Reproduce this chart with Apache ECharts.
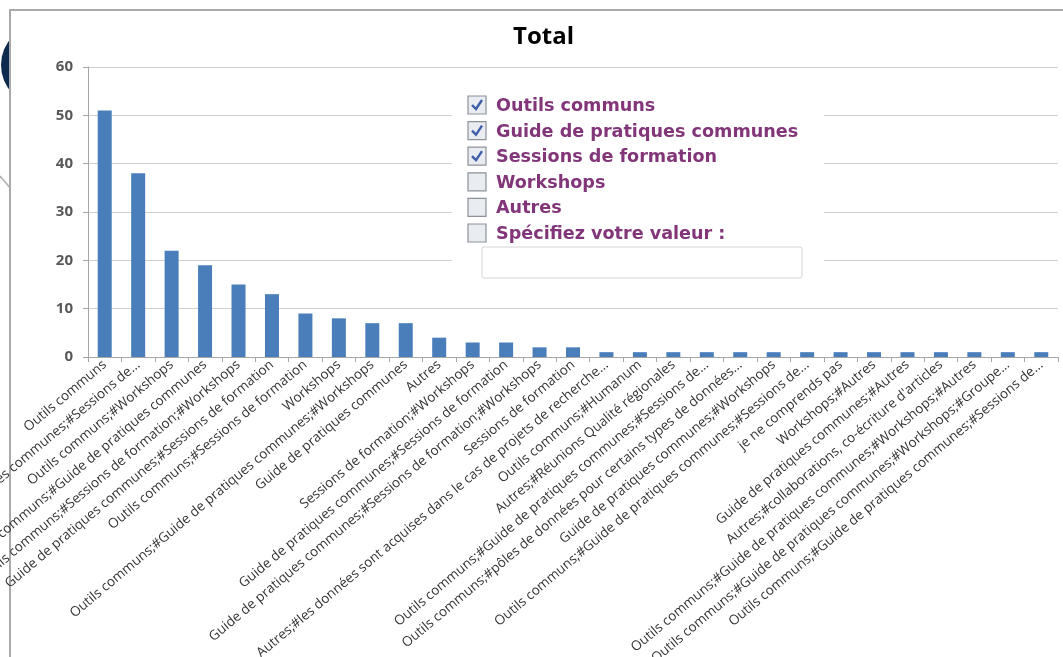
<!DOCTYPE html>
<html lang="fr">
<head>
<meta charset="UTF-8">
<title>Total</title>
<style>
  html, body { margin: 0; padding: 0; background: #fff; }
  #chartContainer { width: 1063px; height: 657px; }
</style>
<script src="https://cdn.jsdelivr.net/npm/echarts@6/dist/echarts.min.js"></script>
</head>
<body>
<div id="chartContainer"></div>
<script>
// categories (long Excel labels, some truncated with "...")
const categories = [
  'Outils communs',
  'Outils communs;#Guide de pratiques communes;#Sessions de...',
  'Outils communs;#Workshops',
  'Outils communs;#Guide de pratiques communes',
  'Outils communs;#Sessions de formation;#Workshops',
  'Guide de pratiques communes;#Sessions de formation',
  'Outils communs;#Sessions de formation',
  'Workshops',
  'Outils communs;#Guide de pratiques communes;#Workshops',
  'Guide de pratiques communes',
  'Autres',
  'Sessions de formation;#Workshops',
  'Guide de pratiques communes;#Sessions de formation',
  'Guide de pratiques communes;#Sessions de formation;#Workshops',
  'Sessions de formation',
  'Autres;#les données sont acquises dans le cas de projets de recherche...',
  'Outils communs;#Humanum',
  'Autres;#Réunions Qualité régionales',
  'Outils communs;#Guide de pratiques communes;#Sessions de...',
  'Outils communs;#pôles de données pour certains types de données...',
  'Guide de pratiques communes;#Workshops',
  'Outils communs;#Guide de pratiques communes;#Sessions de...',
  'je ne comprends pas',
  'Workshops;#Autres',
  'Guide de pratiques communes;#Autres',
  'Autres;#collaborations, co-écriture d\'articles',
  'Outils communs;#Guide de pratiques communes;#Workshops;#Autres',
  'Outils communs;#Guide de pratiques communes;#Workshops;#Groupe...',
  'Outils communs;#Guide de pratiques communes;#Sessions de...'
];
const totals = [51, 38, 22, 19, 15, 13, 9, 8, 7, 7, 4, 3, 3, 2, 2,
                1, 1, 1, 1, 1, 1, 1, 1, 1, 1, 1, 1, 1, 1];
const yTicks = [0, 10, 20, 30, 40, 50, 60];

// the survey question box pasted over the chart
const choices = ['Outils communs', 'Guide de pratiques communes', 'Sessions de formation',
                 'Workshops', 'Autres', 'Spécifiez votre valeur :'];
const checked = [true, true, true, false, false, false];

const chartDom = document.getElementById('chartContainer');
const myChart = echarts.init(chartDom);

const purple = '#833579';
const overlay = [
  { type: 'rect', z: 20, shape: { x: 452, y: 88, width: 372, height: 200 },
    style: { fill: '#fff' } },
  { type: 'rect', z: 21, shape: { x: 482, y: 247, width: 320, height: 31, r: 2 },
    style: { fill: '#fff', stroke: '#d4d4d4', lineWidth: 1 } }
];
choices.forEach((txt, i) => {
  const cy = 105 + i * 25.6;
  overlay.push({ type: 'rect', z: 21, shape: { x: 468, y: cy - 9, width: 18, height: 18 },
    style: { fill: '#e9edf2', stroke: '#8d9198', lineWidth: 1.2 } });
  if (checked[i]) {
    overlay.push({ type: 'polyline', z: 22,
      shape: { points: [[472, cy], [476, cy + 4], [482, cy - 5]] },
      style: { stroke: '#3c5fa8', lineWidth: 2.4, fill: null } });
  }
  overlay.push({ type: 'text', z: 22, x: 496, y: cy + 1.5,
    style: { text: txt, fill: purple, font: 'bold 17.6px "DejaVu Sans"', verticalAlign: 'middle' } });
});

const option = {
  animation: false,
  title: {
    text: 'Total',
    left: 508,
    top: 20,
    textStyle: { fontFamily: 'Open Sans', fontSize: 24, fontWeight: 'bold', color: '#000' }
  },
  grid: { left: 88, right: 5, top: 67, bottom: 300, containLabel: false, outerBoundsMode: 'none' },
  xAxis: {
    type: 'category',
    data: categories,
    axisLine: { lineStyle: { color: '#a6a6a6' } },
    axisTick: { show: true, length: 5, lineStyle: { color: '#a6a6a6' } },
    axisLabel: {
      interval: 0, rotate: 40, margin: 6, hideOverlap: false,
      fontFamily: 'Open Sans', fontSize: 13.5, color: '#333'
    }
  },
  yAxis: {
    type: 'value',
    min: yTicks[0], max: yTicks[yTicks.length - 1], interval: 10,
    axisLine: { show: true, lineStyle: { color: '#a6a6a6' } },
    axisTick: { show: true, length: 5, lineStyle: { color: '#a6a6a6' } },
    axisLabel: { margin: 15, fontFamily: 'Open Sans', fontSize: 15, color: '#595959', fontWeight: 'bold' },
    splitLine: { lineStyle: { color: '#cfcfcf' } }
  },
  series: [{
    type: 'bar',
    data: totals,
    barWidth: 14,
    itemStyle: { color: '#4a7ebb' }
  }],
  graphic: [
    // slide background bits peeking out at the left edge
    { type: 'circle', z: -3, shape: { cx: 42, cy: 65, r: 41 }, style: { fill: '#0d2b4f' } },
    { type: 'line', z: -3, shape: { x1: 0, y1: 176, x2: 12, y2: 190 },
      style: { stroke: '#b0b0b0', lineWidth: 1.5 } },
    { type: 'rect', z: -2, shape: { x: 10, y: 10, width: 1070, height: 670 },
      style: { fill: '#fff', stroke: '#a9a9a9', lineWidth: 2 } }
  ].concat(overlay)
};

myChart.setOption(option);
</script>
</body>
</html>
